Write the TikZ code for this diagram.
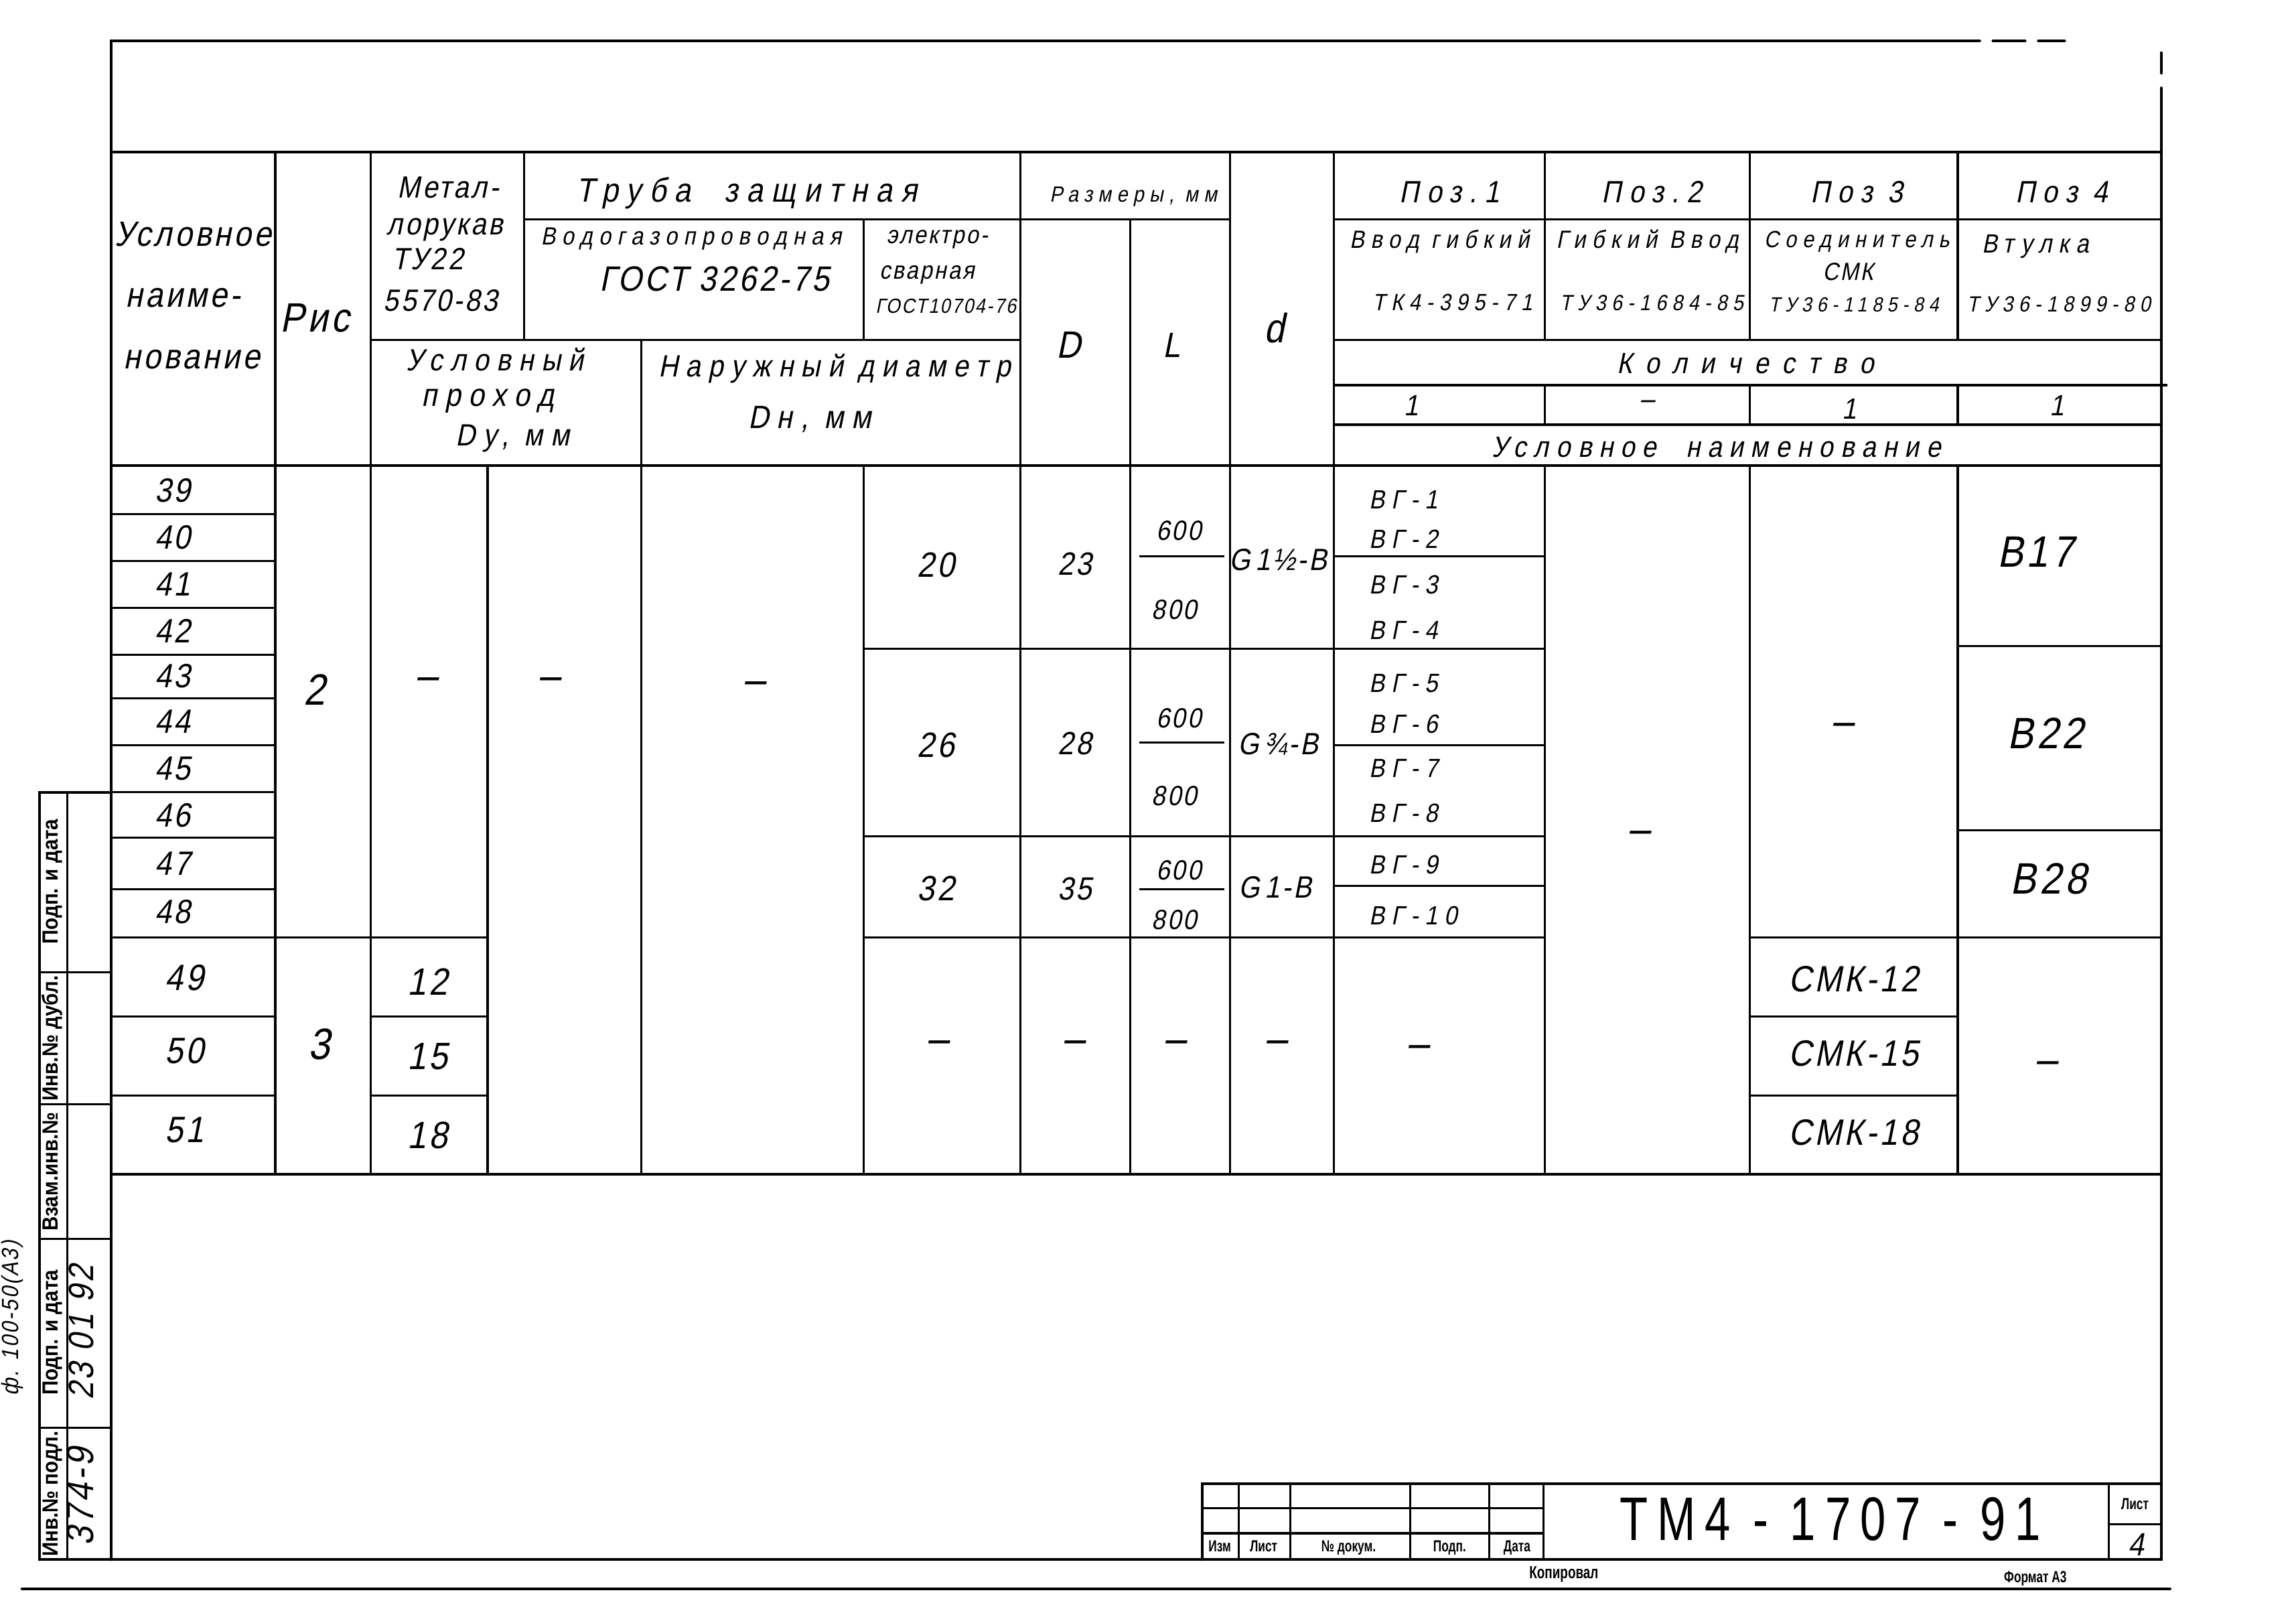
\documentclass[tikz,border=0pt]{standalone}
\usepackage{fontspec}
\setmainfont{Liberation Sans}
\newfontfamily\gost{Liberation Sans}[FakeSlant=0.2,FakeStretch=0.88,LetterSpace=8]
\newfontfamily\gostmid{Liberation Sans}[FakeSlant=0.2,FakeStretch=0.88,LetterSpace=25]
\newfontfamily\gostwide{Liberation Sans}[FakeSlant=0.2,FakeStretch=0.88,LetterSpace=45]
\newfontfamily\stampfont{Liberation Sans}[FakeStretch=0.72]
\newfontfamily\sidefont{Liberation Sans}[FakeStretch=0.9]
\newfontfamily\titlefont{Liberation Sans}[FakeStretch=0.75,LetterSpace=15]

\begin{document}
\begin{tikzpicture}[x=1pt,y=-1pt]
    % Define display style
    \tikzstyle{frame}=[line width=1.8pt, line cap=round]
    \tikzstyle{grid}=[line width=1.4pt]
    \tikzstyle{txt}=[inner sep=0pt, anchor=mid]
    \tikzset{
        sz/.style={txt, font=\gost\fontsize{#1}{#1}\selectfont, yshift={-0.22*#1pt}},
        szm/.style={txt, font=\gostmid\fontsize{#1}{#1}\selectfont, yshift={-0.22*#1pt}},
        szw/.style={txt, font=\gostwide\fontsize{#1}{#1}\selectfont, yshift={-0.22*#1pt}},
        szr/.style={txt, font=\gost\fontsize{#1}{#1}\selectfont, rotate=90},
        szs/.style={txt, font=\stampfont\bfseries\fontsize{#1}{#1}\selectfont},
        szside/.style={txt, font=\sidefont\bfseries\fontsize{#1}{#1}\selectfont, rotate=90},
        szt/.style={txt, font=\titlefont\fontsize{#1}{#1}\selectfont, yshift={-0.22*#1pt}}
    }

    % Define coordinates of the columns
    \newcommand\xL{76}
    \newcommand\xRis{188}
    \newcommand\xDy{253}
    \newcommand\xDyR{333}
    \newcommand\xMr{358}
    \newcommand\xDn{438}
    \newcommand\xVg{590}
    \newcommand\xD{697}
    \newcommand\xLl{772}
    \newcommand\xd{840}
    \newcommand\xPa{911}
    \newcommand\xPb{1055}
    \newcommand\xPc{1195}
    \newcommand\xPd{1337}
    \newcommand\xR{1476}

    % Define coordinates of the rows
    \newcommand\yTop{104}
    \newcommand\yHa{150}
    \newcommand\yHb{232}
    \newcommand\yHc{263}
    \newcommand\yHd{290}
    \newcommand\yHe{318}
    \newcommand\yEnd{802}

    \useasboundingbox (0,0) rectangle (1568,1101);

    % Create shortcuts for the sheet corners
    \coordinate (TL) at (\xL,28);
    \coordinate (TR) at (\xR,36);
    \coordinate (BL) at (27,1065);
    \coordinate (BR) at (\xR,1065);

    % Draw the sheet frame
    \draw[frame] (\xL,1065) -- (TL) -- (1330,28);
    \draw[frame, dash pattern=on 22pt off 9pt] (1330,28) -- (1410,28);
    \draw[frame] (TR) -- (\xR,50);
    \draw[frame] (\xR,60) -- (BR) -- (BL);
    \draw[frame] (15,1085) -- (1482,1085);

    % Draw the side stamp
    \draw[frame] (BL) -- (27,541) -- (\xL,541);
    \draw[grid] (46,541) -- (46,1065);
    \foreach \y in {664,754,846,975}
        \draw[grid] (27,\y) -- (\xL,\y);

    % Draw the title block
    \draw[frame] (821,1065) -- (821,1013) -- (\xR,1013);
    \foreach \x in {846,881,963,1017,1054}
        \draw[grid] (\x,1013) -- (\x,1065);
    \foreach \y in {1030,1047}
        \draw[grid] (821,\y) -- (1054,\y);
    \draw[grid] (1440,1013) -- (1440,1065);
    \draw[grid] (1440,1041) -- (\xR,1041);

    % Draw the table borders
    \draw[frame] (\xL,\yTop) -- (\xR,\yTop);
    \draw[frame] (\xL,\yHe) -- (\xR,\yHe);
    \draw[frame] (\xL,\yEnd) -- (\xR,\yEnd);

    % Draw the vertical lines of the table
    \foreach \x in {\xRis,\xDy,\xD,\xd,\xPa}
        \draw[grid] (\x,\yTop) -- (\x,\yEnd);
    \draw[grid] (\xMr,\yTop) -- (\xMr,\yHb);
    \draw[grid] (\xDyR,\yHe) -- (\xDyR,\yEnd);
    \draw[grid] (\xDn,\yHb) -- (\xDn,\yEnd);
    \draw[grid] (\xVg,\yHa) -- (\xVg,\yHb);
    \draw[grid] (\xVg,\yHe) -- (\xVg,\yEnd);
    \draw[grid] (\xLl,\yHa) -- (\xLl,\yEnd);
    \foreach \x in {\xPb,\xPc,\xPd} {
        \draw[grid] (\x,\yTop) -- (\x,\yHb);
        \draw[grid] (\x,\yHc) -- (\x,\yHd);
        \draw[grid] (\x,\yHe) -- (\x,\yEnd);
    }

    % Draw the horizontal lines of the header
    \draw[grid] (\xMr,\yHa) -- (\xd,\yHa);
    \draw[grid] (\xPa,\yHa) -- (\xR,\yHa);
    \draw[grid] (\xDy,\yHb) -- (\xD,\yHb);
    \draw[grid] (\xPa,\yHb) -- (\xR,\yHb);
    \draw[grid] (\xPa,\yHc) -- (1480,\yHc);
    \draw[grid] (\xPa,\yHd) -- (\xR,\yHd);

    % Draw the horizontal lines of the body
    \foreach \y in {351,383,415,447,477,509,541,572,607,694,748}
        \draw[grid] (\xL,\y) -- (\xRis,\y);
    \draw[grid] (\xL,640) -- (\xDyR,640);
    \foreach \y in {694,748}
        \draw[grid] (\xDy,\y) -- (\xDyR,\y);
    \foreach \y in {443,571,640}
        \draw[grid] (\xVg,\y) -- (\xPb,\y);
    \foreach \y in {380,509,605}
        \draw[grid] (\xPa,\y) -- (\xPb,\y);
    \foreach \y in {380,507,607}
        \draw[grid] (778,\y) -- (836,\y);
    \foreach \y in {640,694,748}
        \draw[grid] (\xPc,\y) -- (\xPd,\y);
    \foreach \y in {441,567,640}
        \draw[grid] (\xPd,\y) -- (\xR,\y);

    % Header texts
    \node[sz=24] (usl1) at (132,160) {Условное};
    \node[sz=24] (usl2) at (125,202) {наиме-};
    \node[sz=24] (usl3) at (131,244) {нование};
    \node[sz=28] (ris) at (215,218) {Рис};
    \node[sz=21] (met1) at (306,128) {Метал-};
    \node[sz=21] (met2) at (304,153) {лорукав};
    \node[sz=21] (met3) at (292,177) {ТУ22};
    \node[sz=21] (met4) at (301,205) {5570-83};
    \node[szm=23] (truba) at (510,130) {Труба\quad защитная};
    \node[szm=17] (vgp1) at (472,161) {Водогазопроводная};
    \node[sz=24] (vgp2) at (488,191) {ГОСТ 3262-75};
    \node[sz=17] (es1) at (640,160) {электро-};
    \node[sz=17] (es2) at (633,184) {сварная};
    \node[sz=14] (es3) at (646,208) {ГОСТ10704-76};
    \node[szm=21] (uy1) at (338,246) {Условный};
    \node[szm=22] (uy2) at (333,270) {проход};
    \node[szm=21] (uy3) at (350,297) {Dу, мм};
    \node[szm=21] (nd1) at (570,250) {Наружный диаметр};
    \node[szm=22] (nd2) at (553,285) {Dн, мм};
    \node[szm=15] (razm) at (774,132) {Размеры, мм};
    \node[sz=26] (colD) at (730,236) {D};
    \node[sz=24] (colL) at (800,236) {L};
    \node[sz=28] (cold) at (870,225) {d};

    \node[szm=21] (poz1) at (990,131) {Поз.1};
    \node[szm=21] (poz2) at (1128,131) {Поз.2};
    \node[szm=21] (poz3) at (1268,131) {Поз 3};
    \node[szm=21] (poz4) at (1408,131) {Поз 4};
    \node[szm=17] (name1) at (983,163) {Ввод гибкий};
    \node[szm=17] (name2) at (1125,163) {Гибкий Ввод};
    \node[szm=16] (name3) at (1268,163) {Соединитель};
    \node[sz=17] (name3b) at (1262,185) {СМК};
    \node[szm=18] (name4) at (1390,166) {Втулка};
    \node[szm=16] (tu1) at (992,206) {ТК4-395-71};
    \node[szm=15] (tu2) at (1128,206) {ТУ36-1684-85};
    \node[szm=14] (tu3) at (1266,207) {ТУ36-1185-84};
    \node[szm=15] (tu4) at (1406,207) {ТУ36-1899-80};
    \node[szw=20] (kol) at (1192,248) {Количество};
    \node[sz=20] (q1) at (964,277) {1};
    \node[sz=20] (q2) at (1125,272) {–};
    \node[sz=20] (q3) at (1263,279) {1};
    \node[sz=20] (q4) at (1405,277) {1};
    \node[szm=20] (uslnaim) at (1172,305) {Условное\quad наименование};

    % Body texts
    \foreach \n/\y in {39/335,40/367,41/399,42/431,43/462,44/493,45/525,46/557,47/590,48/623}
        \node[sz=23] (row\n) at (118,\y) {\n};
    \foreach \n/\y in {49/668,50/718,51/772}
        \node[sz=25] (row\n) at (126,\y) {\n};
    \node[sz=30] (ris2) at (215,472) {2};
    \node[sz=30] (ris3) at (218,714) {3};

    \node[sz=30] (dy0) at (291,462) {–};
    \foreach \n/\y in {12/671,15/722,18/776}
        \node[sz=26] (dy\n) at (292,\y) {\n};
    \node[sz=30] (nil1) at (375,462) {–};
    \node[sz=30] (nil2) at (515,465) {–};

    \foreach \n/\y in {20/386,26/509,32/607}
        \node[sz=24] (dn\n) at (639,\y) {\n};
    \node[sz=30] (dn0) at (640,710) {–};
    \foreach \n/\y in {23/385,28/508,35/607}
        \node[sz=22] (dd\n) at (734,\y) {\n};
    \node[sz=30] (dd0) at (733,710) {–};

    \foreach \i/\y in {a/362,b/490,c/594}
        \node[sz=19] (la\i) at (805,\y) {600};
    \foreach \i/\y in {a/416,b/543,c/628}
        \node[sz=19] (lb\i) at (802,\y) {800};
    \node[sz=30] (ll0) at (802,710) {–};

    \node[sz=21] (g1) at (873,382) {G\,1½-B};
    \node[sz=21] (g2) at (873,508) {G\,¾-B};
    \node[sz=21] (g3) at (871,606) {G\,1-B};
    \node[sz=30] (g0) at (871,710) {–};

    \foreach \n/\y in {1/341,2/368,3/399,4/430,5/466,6/494,7/524,8/555,9/590,10/625}
        \node[szm=18, anchor=mid west] (vg\n) at (935,\y) {ВГ-\n};
    \node[sz=30] (vg0) at (968,713) {–};
    \node[sz=30] (p2nil) at (1119,567) {–};
    \node[sz=30] (p3nil) at (1258,493) {–};
    \foreach \n/\y in {12/669,15/720,18/774}
        \node[sz=25] (smk\n) at (1266,\y) {СМК-\n};
    \node[sz=30] (vt17) at (1390,378) {В17};
    \node[sz=30] (vt22) at (1397,502) {В22};
    \node[sz=30] (vt28) at (1399,601) {В28};
    \node[sz=30] (vt0) at (1397,724) {–};

    % Side stamp texts
    \node[szside=15] (st1) at (37,602) {Подп. и дата};
    \node[szside=15] (st2) at (37,709) {Инв.№ дубл.};
    \node[szside=15] (st3) at (37,800) {Взам.инв.№};
    \node[szside=15] (st4) at (37,910) {Подп. и дата};
    \node[szside=15] (st5) at (37,1020) {Инв.№ подл.};
    \node[szr=24] (sv4) at (61,910) {23 01 92};
    \node[szr=26] (sv5) at (61,1022) {374-9};
    \node[szr=16] (fmt) at (10,900) {ф. 100-50(А3)};

    % Title block texts
    \node[szs=11] (tz1) at (833,1057) {Изм};
    \node[szs=11] (tz2) at (863,1057) {Лист};
    \node[szs=11] (tz3) at (921,1057) {№ докум.};
    \node[szs=11] (tz4) at (990,1057) {Подп.};
    \node[szs=11] (tz5) at (1036,1057) {Дата};
    \node[szt=42] (code) at (1250,1040) {ТМ4 - 1707 - 91};
    \node[szs=11] (sheet) at (1458,1028) {Лист};
    \node[sz=22] (sheetno) at (1459,1055) {4};
    \node[szs=12] (copy) at (1068,1075) {Копировал};
    \node[szs=11] (fmtA) at (1390,1078) {Формат А3};
\end{tikzpicture}
\end{document}
